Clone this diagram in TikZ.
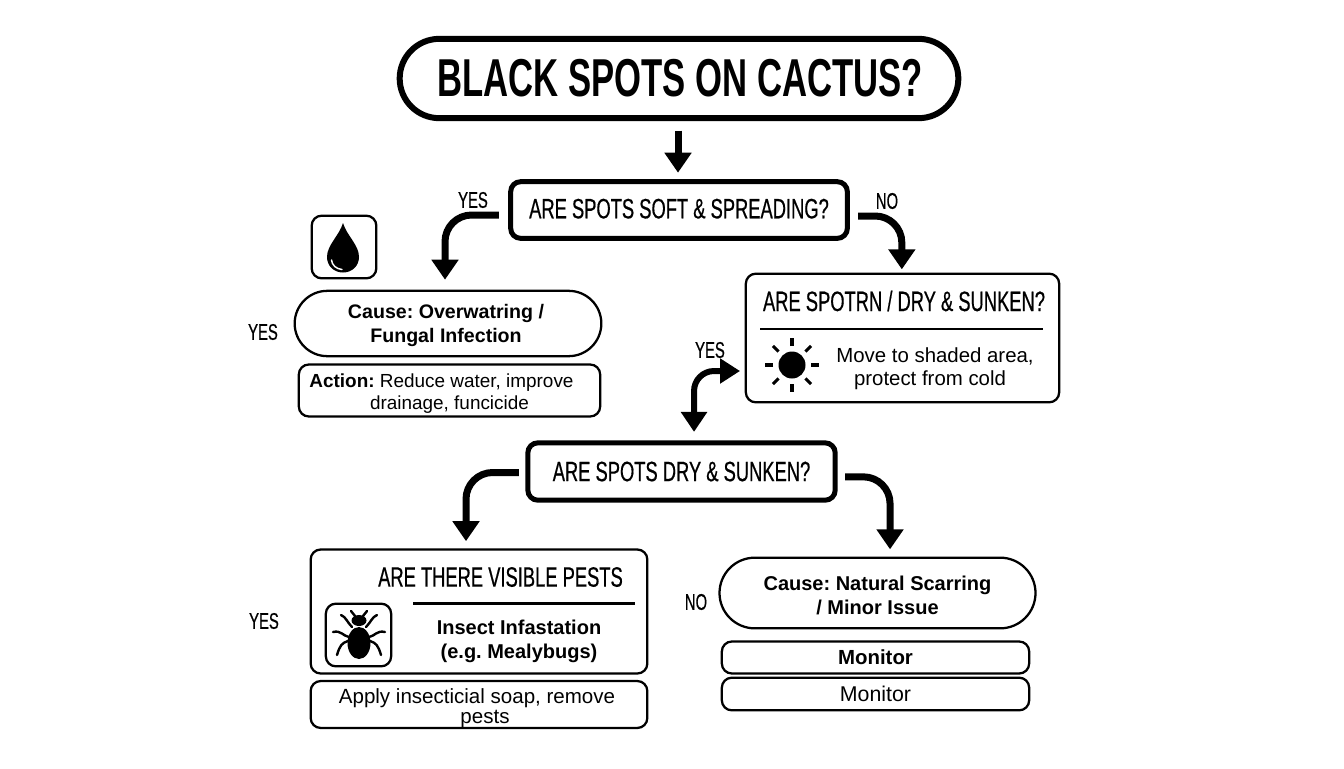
\documentclass[tikz,border=0pt]{standalone}
\usepackage{fontspec}
\usetikzlibrary{arrows.meta,shapes.misc}
\setmainfont{Liberation Sans}
\newfontfamily\headfont[FakeStretch=0.655,FakeBold=0.5]{Liberation Sans}
\newfontfamily\titlefont[FakeStretch=0.65]{Liberation Sans Bold}
\newcommand{\lift}[1]{\rule{0pt}{#1}}
\frenchspacing
\tikzset{
    flow/.style={line width=5.25pt,rounded corners=20pt,-{Triangle[length=15pt,width=19.5pt]}},
    bothflow/.style={line width=4.5pt,rounded corners=15pt,{Triangle[length=15pt,width=19pt]}-{Triangle[length=15pt,width=18pt]}},
    thickbox/.style={draw,line width=3.75pt,rounded corners=7.5pt,inner sep=0pt,font=\headfont\fontsize{21}{25}\selectfont},
    thinbox/.style={draw,line width=1.7pt,rounded corners=7.5pt,inner sep=0pt,align=center,font=\fontsize{14.2}{16}\selectfont},
    pill/.style={draw,line width=1.7pt,rounded rectangle,inner sep=0pt,align=center,font=\bfseries\fontsize{14.7}{18}\selectfont},
    head/.style={inner sep=0pt,font=\headfont\fontsize{21}{25}\selectfont},
    answer/.style={inner sep=0pt,font=\headfont\fontsize{17}{20}\selectfont},
    bodytext/.style={inner sep=0pt,align=center,font=\fontsize{15.3}{17}\selectfont},
    boldtext/.style={bodytext,font=\bfseries\fontsize{15}{18}\selectfont},
    rule/.style={line width=1.7pt},
    leg/.style={line width=1.8pt,line cap=round},
}
\begin{document}
\begin{tikzpicture}[x=0.75pt,y=-0.75pt]
    \useasboundingbox (0,0) rectangle (1344,768);

    \node[draw,line width=4.5pt,rounded rectangle,minimum width=419pt,minimum height=59.5pt,inner sep=0pt,
        font=\titlefont\fontsize{40}{46}\selectfont] (title) at (679,78.5) {\hspace*{1.5pt}BLACK SPOTS ON CACTUS?};
    \node[thickbox,minimum width=252.5pt,minimum height=42.5pt] (soft) at (679,210) {\rule[-2.2pt]{0pt}{2.2pt}ARE SPOTS SOFT \& SPREADING?};

    \node[thinbox,minimum width=48.5pt,minimum height=47pt] (drop) at (344,247) {};
    \node[pill,minimum width=230pt,minimum height=49pt] (overwater) at (448,323.5) {\lift{14pt}Cause: Overwatring /\hspace*{3pt}\\Fungal Infection\hspace*{3pt}};
    \node[thinbox,minimum width=226pt,minimum height=39pt] (reduce) at (449.5,390.5)
        {\lift{15pt}\textbf{Action:} Reduce water, improve\hspace*{12pt}\\drainage, funcicide};

    \node[thinbox,minimum width=235pt,minimum height=96.5pt] (sunken) at (902.5,338) {};
    \node[head] (sunkenq) at (904,301) {ARE SPOTRN / DRY \& SUNKEN?};
    \node[bodytext] (shade) at (935,369) {Move to shaded area,\\protect from cold\hspace*{7.5pt}};

    \node[thickbox,minimum width=230.5pt,minimum height=43pt] (dry) at (681.5,471.5) {ARE SPOTS DRY \& SUNKEN?};

    \node[thinbox,minimum width=252.5pt,minimum height=93pt] (pests) at (479,611.5) {};
    \node[head] (pestsq) at (500.5,577) {ARE THERE VISIBLE PESTS};
    \node[thinbox,minimum width=49pt,minimum height=47pt] (bug) at (358.5,635) {};
    \node[boldtext] (insect) at (519,641) {Insect Infastation\\(e.g. Mealybugs)};
    \node[thinbox,minimum width=252.5pt,minimum height=34pt,font=\fontsize{15.4}{15}\selectfont] (soap) at (479,704.5)
        {\lift{17pt}Apply insecticial soap, remove\hspace*{3pt}\\\hspace*{9pt}pests};

    \node[pill,minimum width=237pt,minimum height=53pt,font=\bfseries\fontsize{15}{18}\selectfont] (scar) at (877.5,593) {\lift{14pt}Cause: Natural Scarring\\/ Minor Issue};
    \node[thinbox,minimum width=230.5pt,minimum height=24pt,font=\bfseries\fontsize{15.3}{17}\selectfont] (monitora) at (875.5,657.5) {Monitor};
    \node[thinbox,minimum width=230.5pt,minimum height=24.5pt,font=\fontsize{16}{17}\selectfont] (monitorb) at (875.5,694) {Monitor};

    \node[answer] (yesa) at (473,200) {YES};
    \node[answer] (noa) at (887,201) {NO};
    \node[answer] (yesb) at (263,332) {YES};
    \node[answer] (yesc) at (710,350) {YES};
    \node[answer] (yesd) at (264,621) {YES};
    \node[answer] (nob) at (696,602) {NO};

    \draw[flow,shorten <=7pt,shorten >=4.85pt] ([xshift=-0.75pt]title.south) -- ([xshift=-0.75pt]soft.north);
    \draw[flow,shorten <=6.9pt,shorten >=7.5pt] ([yshift=-3.75pt]soft.west) -| ([xshift=-2.25pt]overwater.north);
    \draw[flow,shorten <=6.15pt,shorten >=2.4pt] ([yshift=-4.5pt]soft.east) -| ([xshift=-0.5pt]sunken.north);
    \draw[bothflow,shorten <=6.35pt,shorten >=3.5pt] ([xshift=9.4pt]dry.north) |- ([yshift=-24.75pt]sunken.west);
    \draw[flow,shorten <=4.9pt,shorten >=5.4pt] ([yshift=-0.75pt]dry.west) -| ([xshift=-9.75pt]pests.north);
    \draw[flow,shorten <=5.6pt,shorten >=5.4pt] ([yshift=-4pt]dry.east) -| ([xshift=9.4pt]scar.north);

    \draw[rule] (760,329) -- (1043,329);
    \draw[rule] (413,603.5) -- (635,603.5);

    \fill (343,223) .. controls (347,236) and (359,245) .. (359,257)
        .. controls (359,266) and (352,272.5) .. (343,272.5)
        .. controls (334,272.5) and (327,266) .. (327,257)
        .. controls (327,245) and (339,236) .. (343,223) -- cycle;
    \draw[white,line width=1.1pt,line cap=round] (331.5,260) .. controls (332,265) and (336,269) .. (342,269.5);

    \fill (792,365) circle [radius=13.5];
    \foreach \ang in {0,45,...,315}
        \draw[line width=2.3pt] (792,365) ++(\ang:19) -- ++(\ang:8);

    \fill (359,643) ellipse [x radius=11.5,y radius=16];
    \fill (359,620.5) ellipse [x radius=7.5,y radius=5.5];
    \foreach \s in {1,-1} {
        \draw[leg] ({359+\s*4},616) -- ({359+\s*8},611);
        \draw[leg] ({359+\s*18},615) .. controls ({359+\s*13},617) and ({359+\s*12},622) .. ({359+\s*7},627);
        \draw[leg] ({359+\s*26},632) .. controls ({359+\s*18},630) and ({359+\s*16},636) .. ({359+\s*10},637);
        \draw[leg] ({359+\s*22},655) .. controls ({359+\s*19},645) and ({359+\s*17},643) .. ({359+\s*11},641);
    }
\end{tikzpicture}
\end{document}
